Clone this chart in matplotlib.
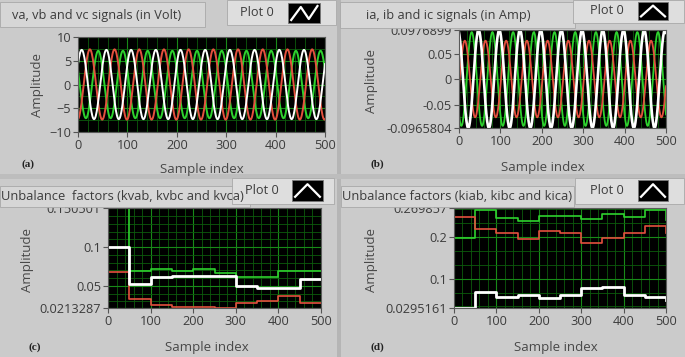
import numpy as np
import matplotlib
matplotlib.use('Agg')
import matplotlib.pyplot as plt
from matplotlib.patches import Rectangle
from matplotlib.lines import Line2D
from matplotlib.ticker import MultipleLocator

plt.rcParams.update({
    'font.family': ['Open Sans', 'DejaVu Sans'],
    'font.size': 9,
    'axes.linewidth': 0.8,
})

W, H = 685, 357

# --- data ---
n_samples = 500
period = 50  # samples per cycle, 10 cycles in the window

# voltage signals (white, red, green)
v_amp = [7.3, 7.4, 7.1]
v_peak_at = [7.5, 24.0, 41.0]

# current signals (white, red, green)
i_amp = [0.0971, 0.076, 0.093]
i_peak_at = [47.3, 14.0, 30.7]
i_offset = 0.00055
i_ylim = (-0.0965804, 0.0976899)

# unbalance factors, one value per block of 50 samples (+ value at sample 500)
step_edges = [0, 50, 100, 150, 200, 250, 300, 350, 400, 450, 500]
kv_green = [0.1505, 0.0691, 0.0713, 0.0696, 0.0713, 0.0670, 0.0618, 0.0618, 0.0691, 0.0691, 0.0691]
kv_white = [0.1005, 0.0519, 0.0609, 0.0627, 0.0627, 0.0627, 0.0502, 0.0476, 0.0476, 0.0584, 0.0584]
kv_red = [0.0683, 0.0325, 0.0252, 0.0221, 0.0230, 0.0209, 0.0272, 0.0303, 0.0368, 0.0282, 0.0282]
kv_ylim = (0.0213287, 0.150501)

ki_green = [0.1985, 0.2651, 0.2450, 0.2394, 0.2506, 0.2506, 0.2434, 0.2546, 0.2490, 0.2651, 0.2410]
ki_red = [0.2474, 0.2186, 0.2106, 0.1954, 0.2154, 0.2106, 0.1865, 0.1970, 0.2106, 0.2266, 0.2106]
ki_white = [0.0303, 0.0688, 0.0552, 0.0608, 0.0528, 0.0608, 0.0768, 0.0808, 0.0608, 0.0568, 0.0488]
ki_ylim = (0.0295161, 0.269857)

WHITE, RED, GREEN = '#ffffff', '#e4503e', '#2ed22e'
BG, BOX = '#cbcbcb', '#d6d6d6'
TXT = '#3c3c3c'

fig = plt.figure(figsize=(W / 100, H / 100), dpi=100)
fig.patch.set_facecolor(BG)


def fx(x):
    return x / W


def fy(y):
    return 1 - y / H


def box(x0, y0, x1, y1, color, ec='#a8a8a8', z=5):
    fig.add_artist(Rectangle((fx(x0), fy(y1)), (x1 - x0) / W, (y1 - y0) / H,
                             transform=fig.transFigure, facecolor=color,
                             edgecolor=ec, linewidth=0.6, zorder=z))


def add_axes(x0, y0, x1, y1):
    ax = fig.add_axes([fx(x0), fy(y1), (x1 - x0) / W, (y1 - y0) / H])
    ax.set_facecolor('black')
    for s in ax.spines.values():
        s.set_color('#5a5a5a')
    ax.tick_params(direction='out', length=3.5, width=0.8, color='#555555',
                   labelcolor=TXT, labelsize=9.2, pad=1.5)
    ax.tick_params(which='minor', length=0)
    ax.grid(True, which='major', color='#188a18', linewidth=0.8)
    ax.grid(True, which='minor', color='#0c5c0c', linewidth=0.6)
    ax.set_axisbelow(True)
    ax.set_xlim(0, n_samples)
    ax.set_xticks([0, 100, 200, 300, 400, 500])
    ax.xaxis.set_minor_locator(MultipleLocator(20))
    return ax


def legend_icon(x0, y0, x1, y1, pts):
    box(x0, y0, x1, y1, 'black', ec='#777777', z=6)
    xs = [fx(x0 + (x1 - x0) * p[0]) for p in pts]
    ys = [fy(y0 + (y1 - y0) * p[1]) for p in pts]
    fig.add_artist(Line2D(xs, ys, transform=fig.transFigure, color='white',
                          linewidth=1.6, zorder=7))


n = np.arange(n_samples + 1)

# panel separators
box(337, 0, 341, H, '#b5b5b5', ec='none', z=1)
box(0, 174, W, 179, '#bdbdbd', ec='none', z=1)

# (a) voltages
ax = add_axes(78, 37, 325, 132)
for amp, pk, c in [(v_amp[2], v_peak_at[2], GREEN), (v_amp[1], v_peak_at[1], RED),
                   (v_amp[0], v_peak_at[0], WHITE)]:
    ax.plot(n, amp * np.cos(2 * np.pi * (n - pk) / period), color=c, linewidth=1.4)
ax.set_ylim(-10, 10)
ax.set_yticks([-10, -5, 0, 5, 10])
ax.yaxis.set_minor_locator(MultipleLocator(2.5))

# (b) currents
ax = add_axes(459, 30, 666, 128)
for amp, pk, c, lw in [(i_amp[2], i_peak_at[2], GREEN, 1.3), (i_amp[1], i_peak_at[1], RED, 1.3),
                       (i_amp[0], i_peak_at[0], WHITE, 1.9)]:
    ax.plot(n, i_offset + amp * np.cos(2 * np.pi * (n - pk) / period), color=c, linewidth=lw)
ax.set_ylim(*i_ylim)
ax.set_yticks([i_ylim[0], -0.05, 0, 0.05, i_ylim[1]])
ax.set_yticklabels(['-0.0965804', '-0.05', '0', '0.05', '0.0976899'])
ax.yaxis.set_minor_locator(MultipleLocator(0.025))

# (c) voltage unbalance factors
ax = add_axes(108, 208, 321, 308)
ax.step(step_edges, kv_green, where='post', color=GREEN, linewidth=1.2)
ax.step(step_edges, kv_red, where='post', color=RED, linewidth=1.2)
ax.step(step_edges, kv_white, where='post', color=WHITE, linewidth=2.0)
ax.set_ylim(*kv_ylim)
ax.set_yticks([kv_ylim[0], 0.05, 0.1, kv_ylim[1]])
ax.set_yticklabels(['0.0213287', '0.05', '0.1', '0.150501'])
ax.yaxis.set_minor_locator(MultipleLocator(0.01))

# (d) current unbalance factors
ax = add_axes(454, 208, 666, 308)
ax.step(step_edges, ki_green, where='post', color=GREEN, linewidth=1.2)
ax.step(step_edges, ki_red, where='post', color=RED, linewidth=1.2)
ax.step(step_edges, ki_white, where='post', color=WHITE, linewidth=2.0)
ax.set_ylim(*ki_ylim)
ax.set_yticks([ki_ylim[0], 0.1, 0.2, ki_ylim[1]])
ax.set_yticklabels(['0.0295161', '0.1', '0.2', '0.269857'])
ax.yaxis.set_minor_locator(MultipleLocator(0.1 / 3))

# title bars and "Plot 0" legends
box(0, 2, 205, 27, BOX)
box(340, 2, 575, 28, BOX)
box(0, 186, 250, 207, BOX)
box(341, 186, 574, 207, BOX)
box(227, 0, 336, 25, '#dedede')
box(573, 0, 684, 23, '#dedede')
box(232, 178, 334, 204, '#dedede')
box(575, 178, 684, 204, '#dedede')

wave = [(0.1, 0.85), (0.4, 0.2), (0.65, 0.8), (0.92, 0.15)]
chevron = [(0.1, 0.8), (0.5, 0.2), (0.9, 0.8)]
legend_icon(288, 3, 320, 23, wave)
legend_icon(638, 2, 668, 20, chevron)
legend_icon(292, 180, 323, 201, chevron)
legend_icon(638, 180, 668, 201, chevron)

tk = dict(color=TXT, zorder=8, va='center')
fig.text(fx(12), fy(15), 'va, vb and vc signals (in Volt)', fontsize=9.2, **tk)
fig.text(fx(366), fy(16), 'ia, ib and ic signals (in Amp)', fontsize=9.2, **tk)
fig.text(fx(1), fy(196), 'Unbalance  factors (kvab, kvbc and kvca)', fontsize=9.3, **tk)
fig.text(fx(342), fy(196), 'Unbalance factors (kiab, kibc and kica)', fontsize=9.3, **tk)
for x, y in [(240, 12.5), (590, 10), (245, 190), (590, 191)]:
    fig.text(fx(x), fy(y), 'Plot 0', fontsize=9.2, **tk)

lab = dict(color='#484848', fontsize=9.5, ha='center', va='center')
for x, y in [(38, 85), (372, 81), (27.5, 260), (372, 260)]:
    fig.text(fx(x), fy(y), 'Amplitude', rotation=90, **lab)
for x, y in [(202, 170), (543, 167), (207, 347), (556, 347)]:
    fig.text(fx(x), fy(y), 'Sample index', **lab)

for s, x, y in [('(a)', 28, 164), ('(b)', 377, 164), ('(c)', 35, 347), ('(d)', 377, 347)]:
    fig.text(fx(x), fy(y), s, fontsize=8, fontweight='bold', family='Liberation Serif',
             color='#222222', ha='center', va='center')

fig.savefig('out.png', dpi=100, facecolor=fig.get_facecolor())
